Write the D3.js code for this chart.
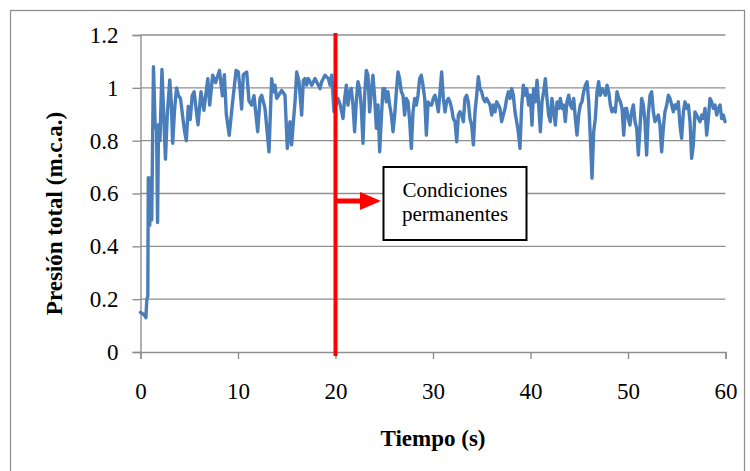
<!DOCTYPE html>
<html>
<head>
<meta charset="utf-8">
<script src="https://cdn.jsdelivr.net/npm/d3@7"></script>
<style>
  html, body { margin: 0; padding: 0; background: #fff; }
  svg { display: block; }
  text { font-family: "Liberation Serif", "Times New Roman", serif; fill: #000; }
</style>
</head>
<body>
<svg id="chart" width="750" height="471"></svg>
<script>
// ---- Data ----
const time = [
  0, 0.4, 0.55, 0.65, 0.75, 0.8, 0.95, 1.05, 1.15, 1.33, 1.5, 1.65, 1.75, 1.85, 2.0, 2.2, 2.4, 2.56, 2.75, 3.0,
  3.15, 3.3, 3.5, 3.7, 3.9, 4.1, 4.3, 4.5, 4.7, 4.9, 5.1, 5.3, 5.5, 5.7, 5.9, 6.2, 6.5, 6.9, 7.1, 7.4,
  7.7, 8.1, 8.4, 8.6, 8.8, 9.1, 9.4, 9.8,
  10.03, 10.2, 10.37, 10.55, 10.89, 11.13, 11.4, 11.64, 12.02, 12.26, 12.43, 12.6, 12.77, 13.18, 13.45, 13.62, 13.79, 13.97, 14.48, 14.82,
  15.06, 15.33, 15.5, 15.68, 15.85, 16.02, 16.26, 16.53, 16.7, 16.87, 17.04, 17.21, 17.56, 17.9, 18.24, 18.41, 18.58, 18.92, 19.27, 19.44,
  19.61, 19.85,
  20.25, 20.49, 20.77, 20.94, 21.11, 21.28, 21.45, 21.62, 21.79, 21.96, 22.13, 22.3, 22.48, 22.65, 22.82, 22.99, 23.16, 23.33, 23.5, 23.67,
  23.84, 24.02, 24.19, 24.36, 24.53, 24.7, 24.87, 25.04, 25.21, 25.38, 25.55, 25.73, 25.9, 26.07, 26.24, 26.41, 26.58, 26.75, 26.92, 27.09,
  27.26, 27.44, 27.61, 27.78, 27.95, 28.12, 28.29, 28.46, 28.63, 28.8, 28.97, 29.15, 29.32, 29.49, 29.66,
  29.86, 30.03, 30.2, 30.37, 30.55, 30.72, 30.89, 31.06, 31.23, 31.4, 31.57, 31.74, 31.91, 32.08, 32.26, 32.43, 32.6, 32.77, 32.94, 33.11,
  33.28, 33.45, 33.62, 33.79, 33.97, 34.14, 34.31, 34.48, 34.65, 34.82, 34.99, 35.16, 35.33, 35.5, 35.68, 35.85, 36.02, 36.19, 36.36, 36.53,
  36.7, 36.87, 37.04, 37.21, 37.39, 37.56, 37.73, 37.9, 38.07, 38.24, 38.41, 38.58, 38.75, 38.92, 39.1, 39.27, 39.44, 39.61,
  39.81, 39.98, 40.15, 40.32, 40.49, 40.67, 40.84, 41.01, 41.18, 41.35, 41.52, 41.69, 41.86, 42.03, 42.2, 42.38, 42.55, 42.72, 42.89, 43.06,
  43.23, 43.4, 43.57, 43.74, 43.92, 44.09, 44.26, 44.43, 44.6, 44.77, 44.94, 45.11, 45.28, 45.45, 45.63, 45.8, 45.97, 46.14, 46.31, 46.48,
  46.65, 46.82, 46.99, 47.16, 47.34, 47.51, 47.68, 47.85, 48.02, 48.19, 48.36, 48.53, 48.7, 48.87, 49.05, 49.22, 49.39, 49.56, 49.73,
  49.86, 50.03, 50.2, 50.37, 50.55, 50.72, 50.89, 51.06, 51.23, 51.4, 51.57, 51.74, 51.91, 52.08, 52.26, 52.43, 52.6, 52.77, 52.94, 53.11,
  53.28, 53.45, 53.62, 53.79, 53.97, 54.14, 54.31, 54.48, 54.65, 54.82, 54.99, 55.16, 55.33, 55.5, 55.68, 55.85, 56.02, 56.19, 56.36, 56.53,
  56.7, 56.87, 57.04, 57.21, 57.39, 57.56, 57.73, 57.9, 58.07, 58.24, 58.41, 58.58, 58.75, 58.92, 59.1, 59.27, 59.44, 59.61, 59.78, 59.95
];
const pressure = [
  0.15, 0.14, 0.13, 0.20, 0.21, 0.66, 0.48, 0.66, 0.50, 1.08, 0.86, 0.84, 0.49, 0.86, 0.80, 1.07, 0.88, 0.73, 0.90, 1.03,
  0.95, 0.79, 0.92, 1.00, 0.97, 0.96, 0.90, 0.84, 0.80, 0.93, 0.88, 0.97, 0.985, 0.92, 0.86, 0.985, 0.915, 1.035, 0.935, 1.048,
  1.02, 1.066, 0.97, 1.05, 0.90, 0.82, 0.93, 1.066,
  1.06, 1.00, 0.92, 1.05, 1.06, 0.95, 0.935, 0.97, 0.834, 0.96, 0.972, 0.947, 0.922, 0.758, 1.035, 0.985, 1.01, 0.96, 0.99, 0.972,
  0.771, 0.872, 0.784, 0.872, 0.947, 1.06, 1.023, 0.897, 1.029, 1.035, 1.01, 1.035, 1.01, 1.035, 1.01, 0.997, 1.023, 1.048, 1.035, 1.01,
  1.048, 0.91,
  0.96, 0.935, 0.884, 0.96, 1.01, 0.935, 0.985, 0.997, 0.935, 0.834, 0.947, 1.023, 0.997, 0.922, 0.79, 0.972, 1.066, 1.048, 0.909, 0.985,
  1.048, 0.96, 0.847, 0.935, 0.758, 0.884, 0.997, 0.997, 0.947, 0.985, 0.935, 0.897, 0.834, 0.897, 0.985, 1.06, 1.035, 0.985, 0.972, 0.897,
  0.96, 0.947, 0.872, 0.771, 0.909, 0.96, 0.935, 0.972, 1.035, 1.048, 1.01, 0.96, 0.821, 0.947, 0.935,
  0.935, 0.96, 0.972, 0.947, 0.909, 0.985, 1.06, 0.96, 0.909, 0.947, 0.96, 0.947, 0.922, 0.884, 0.872, 0.796, 0.897, 0.909, 0.897, 0.872,
  0.96, 0.972, 0.947, 0.884, 0.859, 0.784, 0.909, 0.972, 1.042, 0.997, 0.985, 0.96, 0.947, 0.96, 0.947, 0.935, 0.897, 0.935, 0.909, 0.947,
  0.935, 0.922, 0.872, 0.897, 0.922, 0.96, 0.985, 0.96, 0.997, 0.972, 0.909, 0.872, 0.834, 0.771, 0.935, 1.01, 0.972, 0.997,
  0.935, 0.972, 0.859, 0.997, 0.947, 1.029, 0.935, 0.834, 0.947, 0.985, 1.035, 0.96, 0.897, 0.872, 0.96, 0.909, 0.859, 0.947, 0.922, 0.96,
  0.922, 0.935, 0.872, 0.947, 0.972, 0.935, 0.922, 0.96, 0.884, 0.821, 0.897, 0.935, 0.947, 0.985, 1.01, 1.023, 0.947, 0.809, 0.658, 0.834,
  0.884, 0.985, 1.023, 0.972, 0.997, 0.985, 0.972, 1.01, 0.985, 0.935, 0.909, 0.922, 0.909, 0.985, 0.96, 0.947, 0.922, 0.821, 0.922,
  0.922, 0.884, 0.859, 0.909, 0.935, 0.872, 0.847, 0.746, 0.847, 0.96, 0.935, 0.872, 0.746, 0.897, 0.972, 0.985, 0.909, 0.872, 0.884, 0.897,
  0.859, 0.758, 0.847, 0.909, 0.935, 0.972, 0.96, 0.935, 0.909, 0.935, 0.922, 0.947, 0.859, 0.809, 0.909, 0.947, 0.922, 0.935, 0.872, 0.733,
  0.784, 0.909, 0.897, 0.884, 0.872, 0.897, 0.884, 0.922, 0.821, 0.884, 0.96, 0.947, 0.922, 0.935, 0.897, 0.922, 0.935, 0.884, 0.897, 0.872
];
const xTicks = [0, 10, 20, 30, 40, 50, 60];
const yTicks = [0, 0.2, 0.4, 0.6, 0.8, 1.0, 1.2];
const markerTime = 20;
const xTitle = "Tiempo (s)";
const yTitle = "Presión total (m.c.a.)";
const noteLines = ["Condiciones", "permanentes"];

// ---- Drawing ----
const SERIF = '"Liberation Serif", "Times New Roman", serif';
const svg = d3.select("#chart");
const x = d3.scaleLinear().domain([0, 60]).range([140.5, 725.5]);
const y = d3.scaleLinear().domain([0, 1.2]).range([352, 35]);

// outer chart border
svg.append("rect").attr("x", 10.5).attr("y", 10.5).attr("width", 734).attr("height", 470)
  .attr("fill", "none").attr("stroke", "#8c8c8c").attr("stroke-width", 1.2);

// gridlines
svg.append("g").selectAll("line").data(yTicks.filter(d => d > 0)).join("line")
  .attr("x1", x(0)).attr("x2", x(60))
  .attr("y1", d => y(d)).attr("y2", d => y(d))
  .attr("stroke", "#8f8f8f").attr("stroke-width", 1.4);

// y axis
const yAxis = svg.append("g").attr("transform", `translate(${x(0)},0)`)
  .call(d3.axisLeft(y).tickValues(yTicks).tickSize(8).tickPadding(14)
    .tickFormat(d => d === 0 ? "0" : d3.format("")(+d.toFixed(1))));
yAxis.attr("font-family", SERIF).attr("font-size", 23);
yAxis.select(".domain").attr("stroke", "#8f8f8f").attr("stroke-width", 1.4);
yAxis.selectAll(".tick line").attr("stroke", "#8f8f8f").attr("stroke-width", 1.4);
yAxis.selectAll(".tick text").style("font-family", SERIF).style("font-size", "23px").attr("fill", "#000");

// x axis
const xAxis = svg.append("g").attr("transform", `translate(0,${y(0)})`)
  .call(d3.axisBottom(x).tickValues(xTicks).tickSize(7).tickPadding(24).tickFormat(d3.format("d")));
xAxis.attr("font-family", SERIF).attr("font-size", 23);
xAxis.select(".domain").attr("stroke", "#8f8f8f").attr("stroke-width", 1.4);
xAxis.selectAll(".tick line").attr("stroke", "#8f8f8f").attr("stroke-width", 1.4);
xAxis.selectAll(".tick text").style("font-family", SERIF).style("font-size", "23px").attr("fill", "#000");

// data line
const pts = time.map((t, i) => [t, pressure[i]]);
svg.append("path").datum(pts)
  .attr("fill", "none").attr("stroke", "#4a7ebb").attr("stroke-width", 3.4)
  .attr("stroke-linejoin", "round").attr("stroke-linecap", "round")
  .attr("d", d3.line().x(d => x(d[0])).y(d => y(d[1])));

// red marker line at t = 20
svg.append("line").attr("x1", x(markerTime)).attr("x2", x(markerTime))
  .attr("y1", y(1.2) - 2).attr("y2", y(0) + 4)
  .attr("stroke", "#ff0000").attr("stroke-width", 4);

// red arrow
const ay = 201;
svg.append("line").attr("x1", x(markerTime)).attr("x2", 364).attr("y1", ay).attr("y2", ay)
  .attr("stroke", "#ff0000").attr("stroke-width", 5);
svg.append("path").attr("d", `M360,${ay - 9} L381,${ay} L360,${ay + 9} Z`).attr("fill", "#ff0000");

// annotation box
svg.append("rect").attr("x", 383.5).attr("y", 167).attr("width", 143).attr("height", 73)
  .attr("fill", "#fff").attr("stroke", "#000").attr("stroke-width", 2);
svg.append("g").selectAll("text").data(noteLines).join("text")
  .attr("x", 455).attr("y", (d, i) => 197 + i * 24)
  .attr("text-anchor", "middle").style("font-family", SERIF).style("font-size", "21px").text(d => d);

// axis titles
svg.append("text").attr("x", x(30)).attr("y", 446).attr("text-anchor", "middle")
  .style("font-family", SERIF).style("font-size", "23px").style("font-weight", "bold").text(xTitle);
svg.append("text").attr("transform", `translate(62,${(y(0) + y(1.2)) / 2 + 20}) rotate(-90)`)
  .attr("text-anchor", "middle").style("font-family", SERIF)
  .style("font-size", "23px").style("font-weight", "bold").text(yTitle);
</script>
</body>
</html>
